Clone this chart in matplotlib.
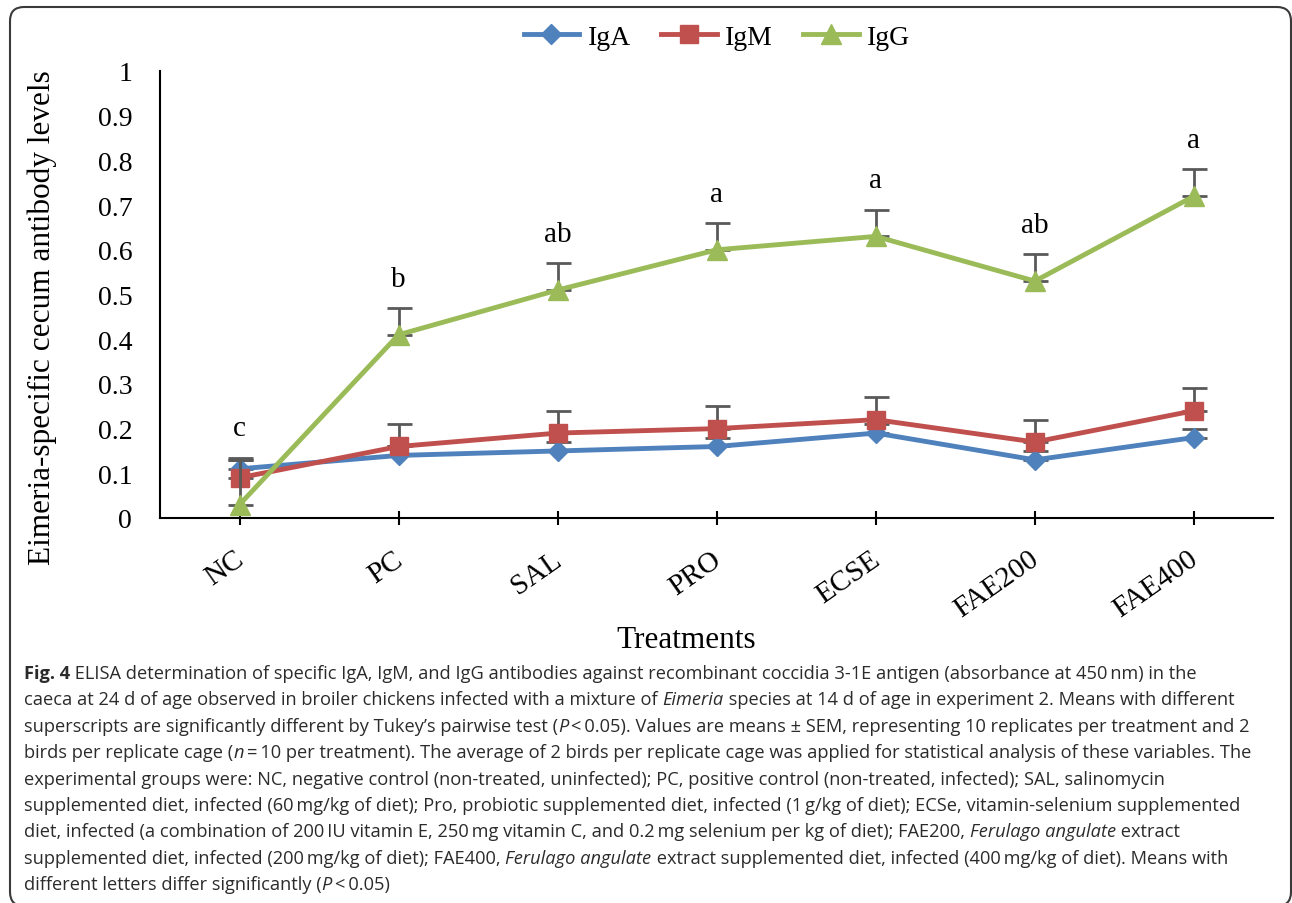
import matplotlib
matplotlib.use("Agg")
import matplotlib.pyplot as plt
import numpy as np
from matplotlib.patches import FancyBboxPatch
from matplotlib.transforms import IdentityTransform, ScaledTranslation
from matplotlib.lines import Line2D

# ---------------- data ----------------
categories = ["NC", "PC", "SAL", "PRO", "ECSE", "FAE200", "FAE400"]
iga = [0.11, 0.14, 0.15, 0.16, 0.19, 0.13, 0.18]
iga_err = [0.02, 0.02, 0.02, 0.02, 0.02, 0.02, 0.02]
igm = [0.09, 0.16, 0.19, 0.20, 0.22, 0.17, 0.24]
igm_err = [0.045, 0.05, 0.05, 0.05, 0.05, 0.05, 0.05]
igg = [0.03, 0.41, 0.51, 0.60, 0.63, 0.53, 0.72]
igg_err = [0.10, 0.06, 0.06, 0.06, 0.06, 0.06, 0.06]
letters = ["c", "b", "ab", "a", "a", "ab", "a"]
series_names = ["IgA", "IgM", "IgG"]
y_ticks = [0, 0.1, 0.2, 0.3, 0.4, 0.5, 0.6, 0.7, 0.8, 0.9, 1]
y_tick_labels = ["0", "0.1", "0.2", "0.3", "0.4", "0.5", "0.6", "0.7", "0.8", "0.9", "1"]
y_label = "Eimeria-specific cecum antibody levels"
x_label = "Treatments"

caption_lines = [
    [("Fig. 4", "b"), (" ELISA determination of specific IgA, IgM, and IgG antibodies against recombinant coccidia 3-1E antigen (absorbance at 450\u2009nm) in the", "r")],
    [("caeca at 24 d of age observed in broiler chickens infected with a mixture of ", "r"), ("Eimeria", "i"), (" species at 14 d of age in experiment 2. Means with different", "r")],
    [("superscripts are significantly different by Tukey\u2019s pairwise test (", "r"), ("P", "i"), ("\u2009<\u20090.05). Values are means \u00b1 SEM, representing 10 replicates per treatment and 2", "r")],
    [("birds per replicate cage (", "r"), ("n", "i"), ("\u2009=\u200910 per treatment). The average of 2 birds per replicate cage was applied for statistical analysis of these variables. The", "r")],
    [("experimental groups were: NC, negative control (non-treated, uninfected); PC, positive control (non-treated, infected); SAL, salinomycin", "r")],
    [("supplemented diet, infected (60\u2009mg/kg of diet); Pro, probiotic supplemented diet, infected (1\u2009g/kg of diet); ECSe, vitamin-selenium supplemented", "r")],
    [("diet, infected (a combination of 200\u2009IU vitamin E, 250\u2009mg vitamin C, and 0.2\u2009mg selenium per kg of diet); FAE200, ", "r"), ("Ferulago angulate", "i"), (" extract", "r")],
    [("supplemented diet, infected (200\u2009mg/kg of diet); FAE400, ", "r"), ("Ferulago angulate", "i"), (" extract supplemented diet, infected (400\u2009mg/kg of diet). Means with", "r")],
    [("different letters differ significantly (", "r"), ("P", "i"), ("\u2009<\u20090.05)", "r")],
]
# approximate right ends (px) of the full caption lines in the reference
caption_line_ends = [1241, 1260, 1256, 1272, None, 1266, None, 1262, None]

# ---------------- style ----------------
W, H = 1292, 904
SERIF = ["Liberation Serif", "DejaVu Serif"]
CAPFONT = ["Open Sans", "DejaVu Sans"]
colors = ["#4F81BD", "#C0504D", "#9BBB59"]
markers = ["D", "s", "^"]
msizes = [10, 13, 14]
err_color = "#595959"

fig = plt.figure(figsize=(W / 100, H / 100), dpi=100)
fig.patch.set_facecolor("white")

ax = fig.add_axes([160 / W, 1 - 519 / H, (1273.5 - 160) / W, (519 - 72) / H])
ax.set_xlim(-0.5, len(categories) - 0.5)
ax.set_ylim(0, 1)
x = np.arange(len(categories))

data = [(iga, iga_err), (igm, igm_err), (igg, igg_err)]
z = 2
for (vals, errs), c, m, ms, name in zip(data, colors, markers, msizes, series_names):
    vals = np.array(vals)
    errs = np.array(errs)
    ax.errorbar(x, vals, yerr=[np.zeros_like(errs), errs], fmt="none", ecolor=err_color,
                elinewidth=2.0, capsize=9, capthick=2.0, zorder=z)
    ax.plot(x, vals, color=c, lw=3.5, marker=m, ms=ms, mec=c, mfc=c, zorder=z + 1,
            solid_capstyle="round")
    z += 2

# significance letters
tops = np.max(np.array([np.array(v) + np.array(e) for v, e in data]), axis=0)
for i, (lt, t) in enumerate(zip(letters, tops)):
    ax.annotate(lt, (x[i], t), xytext=(0, 16), textcoords="offset points",
                ha="center", va="baseline", fontsize=21, family=SERIF, color="black")

for s in ["top", "right"]:
    ax.spines[s].set_visible(False)
for s in ["left", "bottom"]:
    ax.spines[s].set_linewidth(1.5)
    ax.spines[s].set_color("black")

ax.set_yticks(y_ticks)
ax.set_yticklabels(y_tick_labels, family=SERIF, fontsize=20)
ax.tick_params(axis="y", length=0, pad=20)
ax.set_xticks(x)
ax.set_xticklabels(categories, family=SERIF, fontsize=21, rotation=35,
                   ha="right", va="top", rotation_mode="anchor")
ax.tick_params(axis="x", direction="inout", length=10, width=1.5, pad=15)
shift = ScaledTranslation(-6 / 100, 0, fig.dpi_scale_trans)
for lab in ax.get_xticklabels():
    lab.set_transform(lab.get_transform() + shift)

fig.text(42 / W, 1 - 318 / H, y_label, rotation=90, ha="center", va="center",
         family=SERIF, fontsize=22.5)
fig.text(686 / W, 1 - 648 / H, x_label, ha="center", va="baseline",
         family=SERIF, fontsize=22.5)

handles = [Line2D([0], [0], color=c, lw=3.5, marker=m, ms=ms, mec=c, mfc=c)
           for c, m, ms in zip(colors, markers, msizes)]
fig.legend(handles, series_names, loc="center", bbox_to_anchor=(717 / W, 1 - 38 / H),
           ncol=3, frameon=False, prop={"family": SERIF, "size": 20},
           handlelength=2.0, handletextpad=0.3, columnspacing=1.1)

# frame
frame = FancyBboxPatch((10, -3), 1281, 899, boxstyle="round,pad=0,rounding_size=14",
                       transform=IdentityTransform(), fill=False, edgecolor="#3a3a3a",
                       lw=1.5)
fig.add_artist(frame)

# ---------------- caption ----------------
renderer = fig.canvas.get_renderer()
cap_color = "#2b2b2b"


def seg_props(style):
    return dict(family=CAPFONT, style="italic" if style == "i" else "normal",
                weight="bold" if style == "b" else "normal")


def measure(s, style, size):
    t = fig.text(0, 0, "I" + s + "I", fontsize=size, **seg_props(style))
    w1 = t.get_window_extent(renderer).width
    t.set_text("II")
    w0 = t.get_window_extent(renderer).width
    t.remove()
    return w1 - w0


x0 = 24
ref_size = 10.0
ratios = []
for segs, end in zip(caption_lines, caption_line_ends):
    if end is None:
        continue
    w_ref = sum(measure(s, st, ref_size) for s, st in segs)
    ratios.append((end - x0) / w_ref)
cap_size = ref_size * min(ratios)

base0 = 679
spacing = 26.4
for li, segs in enumerate(caption_lines):
    xx = x0
    yb = base0 + li * spacing
    for s, st in segs:
        fig.text(xx / W, 1 - yb / H, s, fontsize=cap_size, ha="left", va="baseline",
                 color=cap_color, **seg_props(st))
        xx += measure(s, st, cap_size)

fig.savefig("out.png", dpi=100)
